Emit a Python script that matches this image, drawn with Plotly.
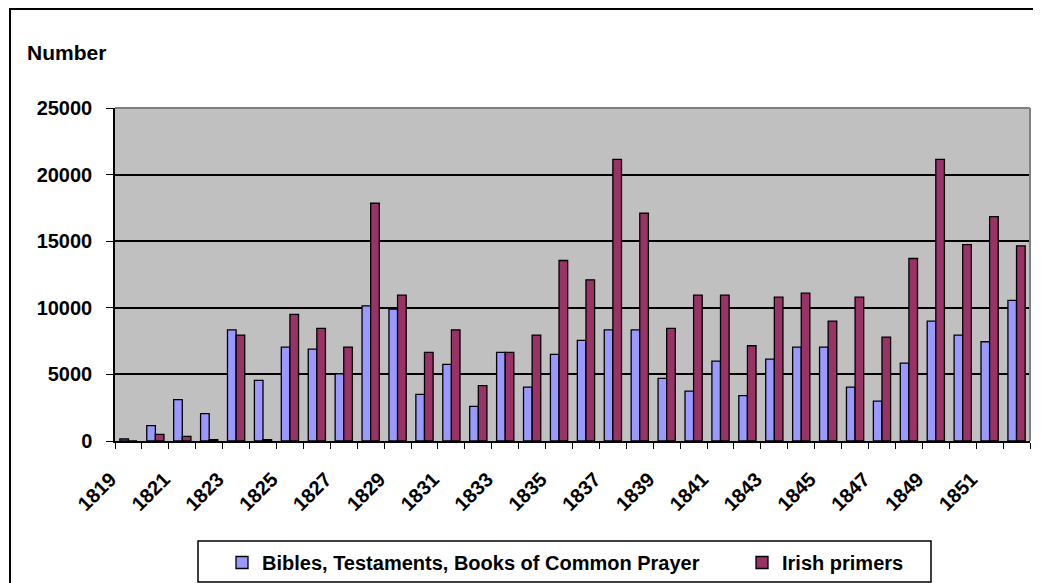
import plotly.graph_objects as go

years = [str(y) for y in range(1819, 1853)]
bibles = [150, 1150, 3100, 2050, 8350, 4550, 7050, 6900, 5050, 10150,
          9900, 3500, 5750, 2600, 6650, 4050, 6500, 7550, 8350, 8350,
          4700, 3750, 6000, 3400, 6150, 7050, 7050, 4050, 3000, 5850,
          9000, 7950, 7450, 10550]
primers = [0, 500, 350, 100, 7950, 100, 9500, 8450, 7050, 17850,
           10950, 6650, 8350, 4150, 6650, 7950, 13550, 12100, 21150, 17100,
           8450, 10950, 10950, 7150, 10800, 11100, 9000, 10800, 7800, 13700,
           21150, 14750, 16850, 14650]
tick_text = [y if i % 2 == 0 else "" for i, y in enumerate(years)]
y_ticks = [0, 5000, 10000, 15000, 20000, 25000]

FONT = "Arial, Liberation Sans, sans-serif"
OFF = 8  # page body margin
W, H = 1041 - OFF, 583 - OFF
# screen coordinates of the plot area
SL, SR, ST, SB = 115, 1030, 108, 441
L, R, T, B = SL - OFF, W - (SR - OFF), ST - OFF, H - (SB - OFF)


def px(sx):
    return (sx - SL) / (SR - SL)


def py(sy):
    return (SB - sy) / (SB - ST)


fig = go.Figure()
fig.add_trace(go.Bar(x=years, y=bibles, name="Bibles, Testaments, Books of Common Prayer",
                     marker=dict(color="#9999FF", line=dict(color="black", width=1.3)),
                     legend="legend"))
fig.add_trace(go.Bar(x=years, y=primers, name="Irish primers",
                     marker=dict(color="#993366", line=dict(color="black", width=1.3)),
                     legend="legend2"))

leg_font = dict(family=FONT, size=20, color="black", weight="bold")
fig.update_layout(
    width=W, height=H,
    margin=dict(l=L, r=R, t=T, b=B, autoexpand=False),
    paper_bgcolor="white", plot_bgcolor="#C0C0C0",
    barmode="group", bargap=0.36, bargroupgap=0,
    font=dict(family=FONT, size=21, color="black"),
    showlegend=True,
    legend=dict(orientation="h", x=px(222), xanchor="left", y=py(543), yanchor="top",
                borderwidth=0, bgcolor="rgba(0,0,0,0)", font=leg_font),
    legend2=dict(orientation="h", x=px(742), xanchor="left", y=py(543), yanchor="top",
                 borderwidth=0, bgcolor="rgba(0,0,0,0)", font=leg_font),
    xaxis=dict(type="category", tickmode="array", tickvals=years, ticktext=tick_text,
               tickangle=-45, tickson="boundaries", ticks="outside", ticklen=6,
               tickcolor="black", showline=True, linecolor="black", linewidth=1.5,
               showgrid=False, ticklabelshift=-18, ticklabelstandoff=17,
               tickfont=dict(family=FONT, size=20, weight="bold")),
    yaxis=dict(range=[0, 25000], tickvals=y_ticks, tickformat="d", ticks="outside", ticklen=7,
               tickcolor="black", showline=True, linecolor="black", linewidth=1.5,
               showgrid=True, gridcolor="black", gridwidth=1.5, zeroline=False,
               ticklabelstandoff=10,
               tickfont=dict(family=FONT, size=20, weight="bold")),
    annotations=[dict(text="<b>Number</b>", xref="paper", yref="paper",
                      x=px(25), y=py(52), xanchor="left", yanchor="middle",
                      showarrow=False, font=dict(family=FONT, size=21, color="black"))],
    shapes=[
        dict(type="rect", xref="paper", yref="paper", x0=px(10), x1=px(1080),
             y0=py(620), y1=py(9), line=dict(color="black", width=2), layer="below"),
        dict(type="rect", xref="paper", yref="paper", x0=px(198), x1=px(931),
             y0=py(582), y1=py(541), line=dict(color="black", width=1.5),
             fillcolor="white", layer="below"),
        dict(type="line", xref="paper", yref="paper", x0=0, x1=1, y0=1, y1=1,
             line=dict(color="#808080", width=2), layer="above"),
        dict(type="line", xref="paper", yref="paper", x0=1, x1=1, y0=0, y1=1,
             line=dict(color="#808080", width=2), layer="above"),
    ],
)

fig.write_html("out.html")
